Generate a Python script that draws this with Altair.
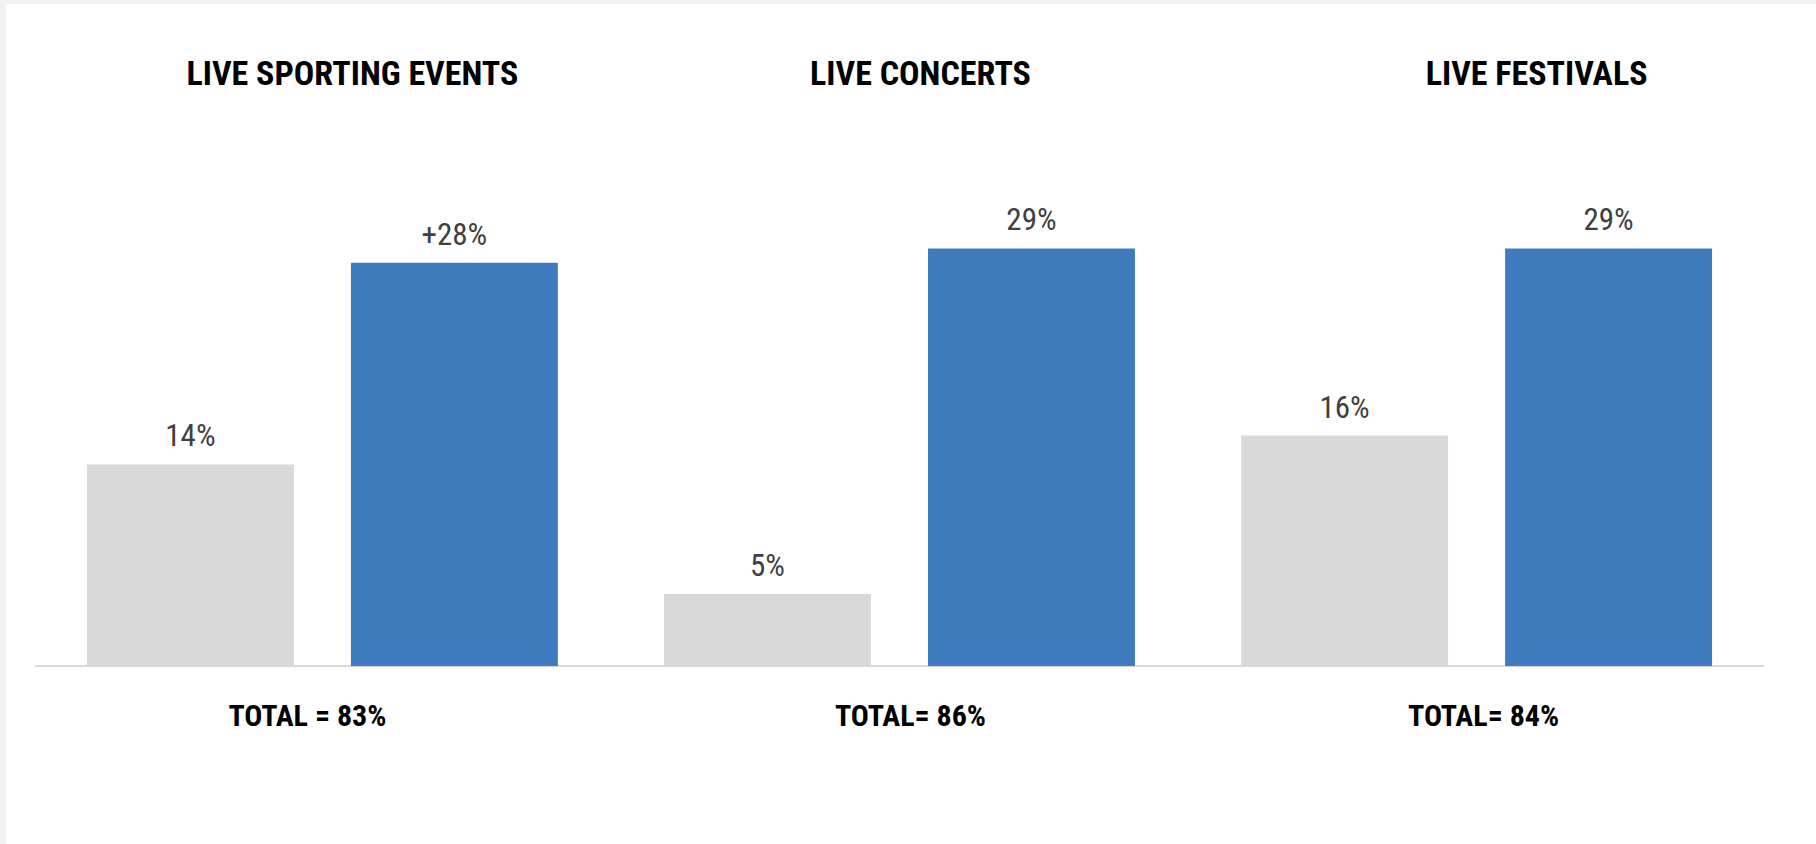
import altair as alt
import pandas as pd

# ---- data ----
events = ["LIVE SPORTING EVENTS", "LIVE CONCERTS", "LIVE FESTIVALS"]
series = ["Before", "After"]
before_values = [14, 5, 16]
after_values = [28, 29, 29]
before_labels = ["14%", "5%", "16%"]
after_labels = ["+28%", "29%", "29%"]
totals = ["TOTAL = 83%", "TOTAL= 86%", "TOTAL= 84%"]

rows = []
for i, ev in enumerate(events):
    rows.append({"event": ev, "series": series[0], "value": before_values[i], "label": before_labels[i]})
    rows.append({"event": ev, "series": series[1], "value": after_values[i], "label": after_labels[i]})
df = pd.DataFrame(rows)
ev_df = pd.DataFrame({"event": events, "total": totals})

GRAY = "#D9D9D9"
BLUE = "#3F7CBF"
FONT = ("Arial Narrow, Liberation Sans Narrow, Roboto Condensed, Noto Sans Condensed, "
        "DejaVu Sans Condensed, sans-serif")

x_scale = alt.Scale(domain=events, range=[29, 1758], paddingInner=0.184, paddingOuter=0.09)
y_scale = alt.Scale(domain=[0, 45.97], range=[662, 0])

x_enc = alt.X("event:N", sort=events, scale=x_scale, axis=None)
xoff_enc = alt.XOffset("series:N", sort=series,
                       scale=alt.Scale(paddingInner=0.216, paddingOuter=0))
y_enc = alt.Y("value:Q", scale=y_scale, axis=None)

baseline = alt.Chart(ev_df).mark_rule(color=GRAY, strokeWidth=2).encode(
    x=alt.value(29), x2=alt.value(1758), y=alt.value(662)
)

bars = alt.Chart(df).mark_bar().encode(
    x=x_enc,
    xOffset=xoff_enc,
    y=y_enc,
    color=alt.Color("series:N", sort=series,
                    scale=alt.Scale(domain=series, range=[GRAY, BLUE]), legend=None),
)

labels = alt.Chart(df).mark_text(
    dy=-18, baseline="alphabetic", fontSize=31, font=FONT, color="#404040"
).encode(
    x=x_enc, xOffset=xoff_enc, y=y_enc, text="label:N"
)

title_dx = [30, 21, 60]
total_dx = [-15, 11, 7]
layers = [baseline, bars, labels]
for i, ev in enumerate(events):
    t = alt.Chart(ev_df).transform_filter(alt.datum.event == ev).mark_text(
        dx=title_dx[i], baseline="alphabetic", fontSize=34, fontWeight="bold",
        font=FONT, color="#000000"
    ).encode(x=x_enc, y=alt.value(81), text="event:N")
    tot = alt.Chart(ev_df).transform_filter(alt.datum.event == ev).mark_text(
        dx=total_dx[i], baseline="alphabetic", fontSize=30, fontWeight="bold",
        font=FONT, color="#000000"
    ).encode(x=x_enc, y=alt.value(722), text="total:N")
    layers += [t, tot]

chart = alt.layer(*layers).properties(
    width=1810, height=840,
    autosize=alt.AutoSizeParams(type="none"),
    padding={"left": 6, "top": 4, "right": 0, "bottom": 0},
    background="#F2F2F2",
).configure_view(stroke=None, fill="white")

chart.save("out.html", embed_options={"renderer": "svg", "actions": False})
